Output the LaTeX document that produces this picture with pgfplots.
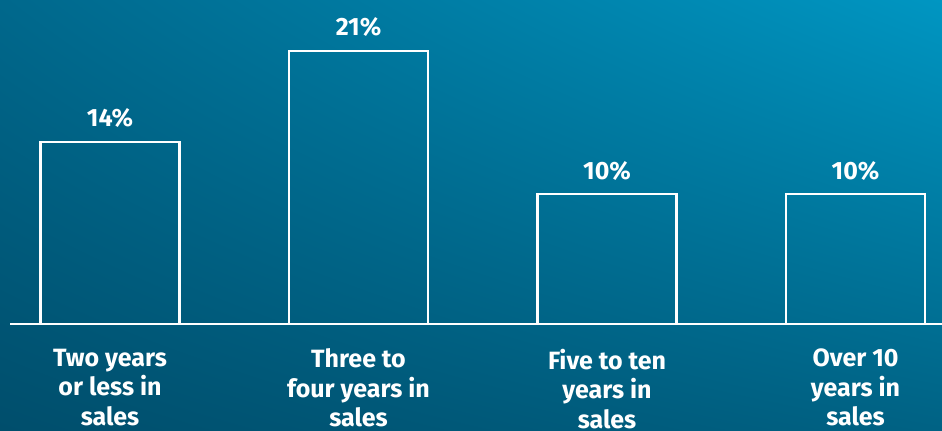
\documentclass[border=0pt]{standalone}
\usepackage{pgfplots}
\pgfplotsset{compat=1.18}
\usepackage{fontspec}
\setmainfont{Fira Sans}
\usetikzlibrary{shadings}
\definecolor{bgUL}{RGB}{0,104,140}
\definecolor{bgUR}{RGB}{0,150,194}
\definecolor{bgLL}{RGB}{0,78,108}
\definecolor{bgLR}{RGB}{0,98,132}
\begin{document}
\begin{tikzpicture}[x=1bp,y=1bp]
\shade[upper left=bgUL, upper right=bgUR, lower left=bgLL, lower right=bgLR] (0,0) rectangle (942,430);
\useasboundingbox (0,0) rectangle (942,430);
\begin{axis}[
  at={(10bp,106bp)}, anchor=south west,
  scale only axis, width=932bp, height=312bp,
  xmin=-0.4024, xmax=3.348, ymin=0, ymax=24,
  clip=false,
  hide y axis,
  axis x line*=bottom,
  x axis line style={-, white, line width=2.8bp},
  xtick={0,1,2,3}, xtick style={draw=none},
  xticklabels={{Two years\\or less in\\sales},{Three to\\four years in\\sales},{Five to ten\\years in\\sales},{Over 10\\years in\\sales}},
  xticklabel style={align=center, text=white, font=\fontsize{25bp}{29.5bp}\selectfont\bfseries, anchor=north, yshift=-17bp},
  /pgf/number format/assume math mode=true,
  ybar, bar width=139bp,
  nodes near coords={\pgfmathprintnumber{\pgfplotspointmeta}\%},
  every node near coord/.append style={anchor=base, yshift=15bp, text=white, font=\fontsize{25bp}{29bp}\selectfont\bfseries},
]
\addplot[draw=white, fill=none, line width=2.8bp] coordinates {(0,14) (1,21) (2,10) (3,10)};
\end{axis}
\end{tikzpicture}
\end{document}
